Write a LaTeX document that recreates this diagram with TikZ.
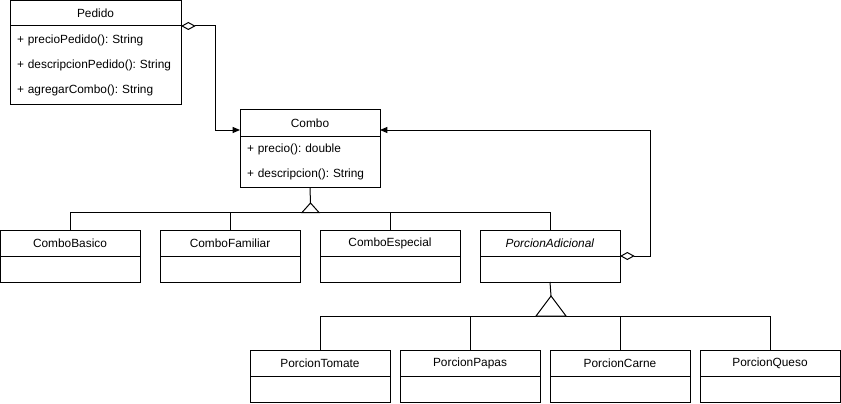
\documentclass[tikz,border=0pt]{standalone}
\usepackage{fontspec}
\setmainfont{Liberation Sans}
\frenchspacing
\usetikzlibrary{positioning,arrows.meta}

\begin{document}
\begin{tikzpicture}[x=0.75pt,y=-0.75pt,line width=0.75pt]
		\tikzset{classname/.style = {draw, minimum width=105pt, minimum height=19.5pt, inner sep=0pt, outer sep=0pt, font=\fontsize{8.9}{10}\selectfont}}
		\tikzset{classbody/.style = {draw, minimum width=105pt, minimum height=19.5pt, inner sep=0pt, outer sep=0pt}}
		\tikzset{methods/.style = {draw, align=left, inner xsep=5.25pt, inner ysep=0pt, outer sep=0pt, font=\fontsize{8.9}{18.75}\selectfont}}
		\tikzset{hasa/.style = {{Diamond[open,length=11pt,width=6pt]}-{Triangle[length=5.5pt,width=4.5pt]}}}
		
		\useasboundingbox (0,0) rectangle (841,403);
		
		\node[classname, minimum width=128.25pt, minimum height=18.75pt] (pedido) at (95.5,13.5) {Pedido};
		\node[methods, text width=117.75pt, minimum height=58.5pt, below=0pt of pedido] (pedidobody)
			{+ precioPedido(): String\\+ descripcionPedido(): String\\+ agregarCombo(): String};
		
		\node[classname, minimum height=20pt] (combo) at (310,123.3) {Combo};
		\node[methods, text width=94.5pt, minimum height=38.5pt, below=0pt of combo] (combobody)
			{+ precio(): double\\+ descripcion(): String};
		
		\node[classname] (basico)    at ( 70,243) {ComboBasico};
		\node[classname] (familiar)  at (230,243) {ComboFamiliar};
		\node[classname] (especial)  at (390,243) {ComboEspecial};
		\node[classname] (adicional) at (550,243) {\textit{PorcionAdicional}};
		\node[classbody, below=0pt of basico]    (basicobody)    {};
		\node[classbody, below=0pt of familiar]  (familiarbody)  {};
		\node[classbody, below=0pt of especial]  (especialbody)  {};
		\node[classbody, below=0pt of adicional] (adicionalbody) {};
		
		\node[classname] (tomate) at (320,363) {PorcionTomate};
		\node[classname] (papas)  at (470,363) {PorcionPapas};
		\node[classname] (carne)  at (620,363) {PorcionCarne};
		\node[classname] (queso)  at (770,363) {PorcionQueso};
		\node[classbody, below=0pt of tomate] (tomatebody) {};
		\node[classbody, below=0pt of papas]  (papasbody)  {};
		\node[classbody, below=0pt of carne]  (carnebody)  {};
		\node[classbody, below=0pt of queso]  (quesobody)  {};
		
		\coordinate (comboL)   at (240,130);
		\coordinate (comboR)   at (380,130);
		\coordinate (gen1)     at (310.5,203);
		\coordinate (gen1base) at (310.5,212.5);
		\coordinate (gen2)     at (551,296);
		\coordinate (gen2base) at (551,316);
		
		\draw[hasa] (pedido.south east) -- ++(34,0) |- (comboL);
		\draw[hasa] (adicional.south east) -- ++(30,0) |- (comboR);
		
		\draw (combobody.south) -- (gen1);
		\draw (basico.north)    |- (gen1base);
		\draw (familiar.north)  |- (gen1base);
		\draw (especial.north)  |- (gen1base);
		\draw (adicional.north) |- (gen1base);
		\draw[fill=white] (gen1) -- ++(8.5,9.5) -- ++(-17,0) -- cycle;
		
		\draw (adicionalbody.south) -- (gen2);
		\draw (tomate.north) |- (gen2base);
		\draw (papas.north)  |- (gen2base);
		\draw (carne.north)  |- (gen2base);
		\draw (queso.north)  |- (gen2base);
		\draw[fill=white] (gen2) -- ++(15,20) -- ++(-30,0) -- cycle;
\end{tikzpicture}
\end{document}
